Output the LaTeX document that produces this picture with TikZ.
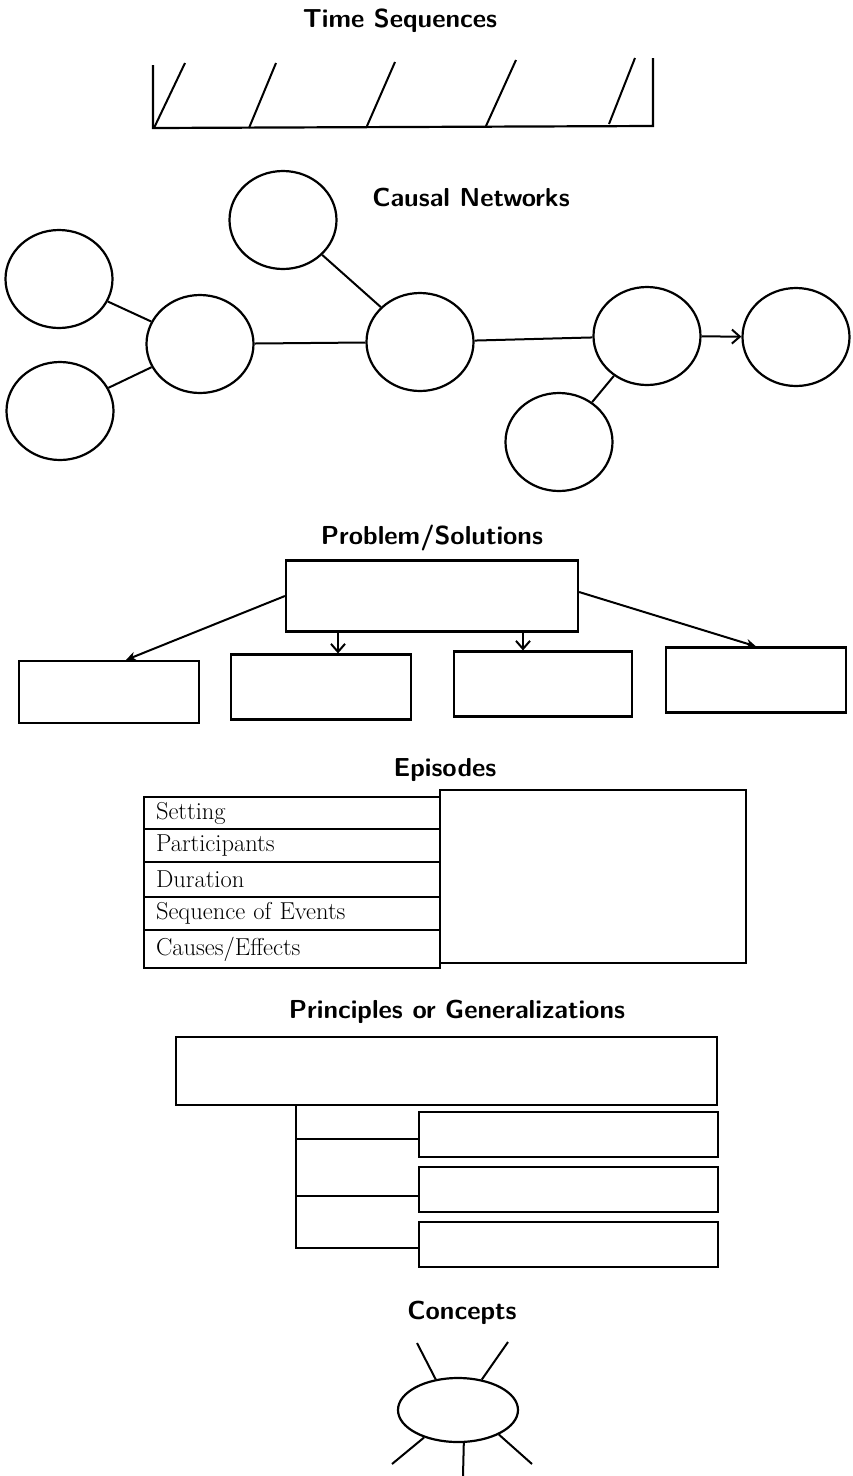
\documentclass[tikz,border=0pt]{standalone}
\usepackage{fontspec}
\usetikzlibrary{shapes.geometric,arrows.meta}
\begin{document}
\begin{tikzpicture}[x=1pt,y=-1pt,line width=2.2pt,
  title/.style={font=\sffamily\bfseries\fontsize{26}{30}\selectfont, inner sep=0pt},
  bubble/.style={draw, ellipse, minimum width=107pt, minimum height=98pt, inner sep=0pt},
  box/.style={draw, rectangle, inner sep=0pt},
  row/.style={draw, rectangle, inner ysep=0pt, inner xsep=12pt, text width=272pt, align=left,
    font=\fontsize{24.5}{27}\selectfont},
  link/.style={line width=2pt},
  barb/.style={link, -{Straight Barb[length=8pt,width=14pt]}},
  solid arrow/.style={link, -{Stealth[length=10pt,width=9pt]}}]
\useasboundingbox (0,0) rectangle (853,1476);

% ---------- Time Sequences ----------
\node[title] (t1) at (400,21) {Time Sequences};
\draw (153,65) -- (153,128) -- (653,126) -- (653,58);
\draw[link] (154,128) -- (185,63);
\draw[link] (249,128) -- (276,63);
\draw[link] (367,126) -- (395,62);
\draw[link] (486,126) -- (516,60);
\draw[link] (609,124) -- (635,58);

% ---------- Causal Networks ----------
\node[title] (t2) at (471,197) {Causal Networks};
\node[bubble] (ca) at (59,279) {};
\node[bubble] (cb) at (60,411) {};
\node[bubble] (cc) at (200,344) {};
\node[bubble] (cd) at (283,220) {};
\node[bubble] (ce) at (420,342) {};
\node[bubble] (cf) at (647,336) {};
\node[bubble] (cg) at (559,442) {};
\node[bubble] (ch) at (796,337) {};
\draw[link] (ca) -- (cc);
\draw[link] (cb) -- (cc);
\draw[link] (cd) -- (ce);
\draw[link] (cc) -- (ce);
\draw[link] (ce) -- (cf);
\draw[link] (cg) -- (cf);
\draw[barb] (cf) -- (ch);

% ---------- Problem/Solutions ----------
\node[title] (t3) at (432,538) {Problem/Solutions};
\node[box, minimum width=292pt, minimum height=71pt] (pt) at (432,596) {};
\node[box, minimum width=180pt, minimum height=62pt] (s1) at (109,692) {};
\node[box, minimum width=180pt, minimum height=65pt] (s2) at (321,687) {};
\node[box, minimum width=178pt, minimum height=65pt] (s3) at (543,684) {};
\node[box, minimum width=180pt, minimum height=65pt] (s4) at (756,680) {};
\coordinate (s1a) at ([xshift=17pt]s1.north);
\coordinate (s2a) at ([xshift=17pt]s2.north);
\coordinate (s3a) at ([xshift=-20pt]s3.north);
\draw[solid arrow] (pt.west) -- (s1a);
\draw[barb] (pt.south -| s2a) -- (s2a);
\draw[barb] (pt.south -| s3a) -- (s3a);
\draw[solid arrow] ([yshift=4pt]pt.east) -- (s4.north);

% ---------- Episodes ----------
\node[title] (t4) at (445,770) {Episodes};
\node[row, minimum height=32pt] (e1) at (292,813) {Setting};
\node[row, minimum height=33pt] (e2) at (292,845.5) {Participants};
\node[row, minimum height=35pt] (e3) at (292,879.5) {Duration};
\node[row, minimum height=33pt] (e4) at (292,913.5) {Sequence of Events};
\node[row, minimum height=38pt] (e5) at (292,949) {Causes/Effects};
\node[box, minimum width=306pt, minimum height=173pt] (ed) at (593,876.5) {};

% ---------- Principles or Generalizations ----------
\node[title] (t5) at (457,1012) {Principles or Generalizations};
\node[box, minimum width=541pt, minimum height=68pt] (pg) at (446.5,1071) {};
\node[box, minimum width=299pt, minimum height=45pt] (b1) at (568.5,1134.5) {};
\node[box, minimum width=299pt, minimum height=45pt] (b2) at (568.5,1189.5) {};
\node[box, minimum width=299pt, minimum height=45pt] (b3) at (568.5,1244.5) {};
\coordinate (v) at (296,0);
\draw[link] (pg.south -| v) |- ([yshift=-3pt]b3.west);
\draw[link] (v |- b1.west) ++(0,4.5) -- ([yshift=-4.5pt]b1.west);
\draw[link] (v |- b2.west) ++(0,6.5) -- ([yshift=-6.5pt]b2.west);

% ---------- Concepts ----------
\node[title] (t6) at (462,1313) {Concepts};
\node[draw, ellipse, minimum width=120pt, minimum height=64pt, inner sep=0pt] (co) at (458,1410) {};
\coordinate (r1) at (417,1343);
\coordinate (r2) at (508,1342);
\coordinate (r3) at (392,1464);
\coordinate (r4) at (463,1476);
\coordinate (r5) at (532,1464);
\draw[link] (co.126) -- (r1);
\draw[link] (co.52) -- (r2);
\draw[link] (co.219) -- (r3);
\draw[link] (co.280) -- (r4);
\draw[link] (co.329) -- (r5);
\end{tikzpicture}
\end{document}
